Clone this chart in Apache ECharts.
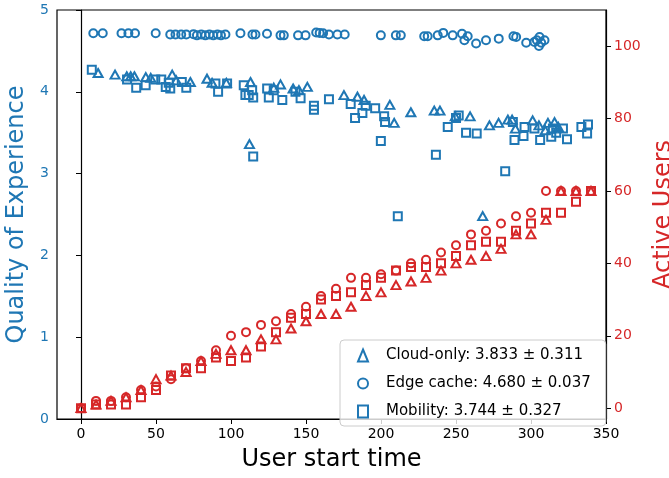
<!DOCTYPE html>
<html>
<head>
<meta charset="utf-8">
<script src="https://cdn.jsdelivr.net/npm/echarts@6/dist/echarts.min.js"></script>
<style>
  html, body { margin: 0; padding: 0; background: #fff; }
  #chart { width: 669px; height: 478px; }
</style>
</head>
<body>
<div id="chart"></div>
<script>
// red: active users sampled every 10 time units
const timeSlots = [0, 10, 20, 30, 40, 50, 60, 70, 80, 90, 100, 110, 120, 130, 140, 150, 160, 170,
  180, 190, 200, 210, 220, 230, 240, 250, 260, 270, 280, 290, 300, 310, 320, 330, 340];
const usersCloud = [0, 1, 2, 3, 5, 8, 9, 10, 13, 15, 16, 16, 19, 19, 22, 24, 26, 26,
  28, 31, 32, 34, 35, 36, 38, 40, 41, 42, 44, 48, 48, 52, 60, 60, 60];
const usersEdge = [0, 2, 2, 3, 5, 6, 8, 11, 13, 16, 20, 21, 23, 24, 26, 28, 31, 33,
  36, 36, 37, 38, 40, 41, 43, 45, 48, 49, 51, 53, 54, 60, 60, 60, 60];
const usersMobility = [0, 1, 1, 1, 3, 5, 9, 11, 11, 14, 13, 14, 17, 21, 25, 26, 30, 31,
  32, 34, 36, 38, 39, 39, 40, 42, 45, 46, 46, 49, 51, 54, 54, 57, 60];

// blue: QoE per user, [start time, qoe]
const qoeCloud = [
  [11.4, 4.23], [22.7, 4.21], [30.5, 4.19], [33.1, 4.19], [35.6, 4.19], [43.2, 4.18], [46.5, 4.17],
  [60.8, 4.21], [63.5, 4.14], [72.9, 4.12], [84, 4.16], [87.4, 4.11], [96.9, 4.11], [112.3, 3.36],
  [113, 4.12], [128.5, 4.05], [133, 4.09], [141.4, 4.04], [145.3, 4.02], [150.9, 4.06], [175.3, 3.96],
  [184.3, 3.94], [188.7, 3.90], [205.9, 3.84], [208.8, 3.62], [219.9, 3.75], [235.5, 3.77], [239.3, 3.77],
  [249.5, 3.70], [259.4, 3.70], [267.8, 2.48], [272.3, 3.59], [278.4, 3.62], [284.6, 3.66], [287.4, 3.66],
  [289.6, 3.55], [301.1, 3.65], [305.3, 3.59], [309.5, 3.53], [311.3, 3.62], [315.7, 3.63], [318.2, 3.57]
];
const qoeEdge = [
  [8.2, 4.715], [14.5, 4.715], [27, 4.715], [31.6, 4.715], [36, 4.715], [49.8, 4.715], [59.5, 4.70],
  [63, 4.70], [66.8, 4.70], [70.2, 4.70], [75, 4.705], [77.3, 4.69], [80.2, 4.70], [82.9, 4.69],
  [85.6, 4.70], [88.2, 4.69], [91, 4.70], [93.3, 4.69], [96.3, 4.70], [106.3, 4.715], [114.3, 4.70],
  [116.3, 4.70], [124, 4.71], [133, 4.69], [135.2, 4.69], [144.7, 4.69], [149.7, 4.69], [156.8, 4.725],
  [159.1, 4.72], [161.4, 4.715], [165.3, 4.70], [170.9, 4.70], [175.8, 4.70], [199.9, 4.69], [209.9, 4.69],
  [213.2, 4.69], [228.8, 4.68], [231.1, 4.68], [237.8, 4.69], [241.5, 4.72], [247.8, 4.69], [254, 4.71],
  [255.6, 4.63], [257.8, 4.68], [263.4, 4.59], [270, 4.63], [278.5, 4.65], [288.3, 4.68], [290.1, 4.67],
  [296.8, 4.60], [302.3, 4.61], [303.9, 4.63], [305.3, 4.56], [305.7, 4.67], [306.8, 4.60], [309, 4.63]
];
const qoeMobility = [
  [7.2, 4.27], [30.7, 4.15], [36.8, 4.05], [43.1, 4.08], [49.5, 4.15], [53.5, 4.15], [56.5, 4.06],
  [58.5, 4.11], [59.5, 4.04], [67.2, 4.12], [70.2, 4.05], [89.6, 4.10], [91.4, 4.00], [97.4, 4.10],
  [108.5, 4.08], [109.6, 3.96], [111.8, 3.96], [114.8, 3.21], [114.1, 4.02], [114.8, 3.93], [124.1, 4.04],
  [125.2, 3.93], [128.5, 4.02], [134.2, 3.90], [143, 4.00], [146.4, 3.92], [155.3, 3.83], [155.3, 3.78],
  [165.3, 3.91], [179.8, 3.85], [182.7, 3.68], [187.6, 3.74], [189.8, 3.83], [196.1, 3.80], [199.9, 3.40],
  [202.1, 3.70], [202.7, 3.63], [211.2, 2.48], [236.6, 3.23], [244.5, 3.57], [250, 3.68], [251.8, 3.71],
  [256.7, 3.50], [263.8, 3.49], [282.8, 3.03], [287.9, 3.63], [289, 3.41], [295, 3.46], [295.7, 3.57],
  [302.3, 3.55], [306.1, 3.41], [314.6, 3.55], [316.8, 3.50], [313.5, 3.45], [321.3, 3.55], [324, 3.42],
  [333.6, 3.57], [338, 3.60], [337.4, 3.49]
];

const xTicks = [0, 50, 100, 150, 200, 250, 300, 350];
const usersTicks = [0, 20, 40, 60, 80, 100];
const legendNames = ['Cloud-only: 3.833 ± 0.311', 'Edge cache: 4.680 ± 0.037', 'Mobility: 3.744 ± 0.327'];

const BLUE = '#1f77b4';
const RED = '#d62728';
const FONT = 'DejaVu Sans';

function zip(xs, ys) {
  return xs.map((x, i) => [x, ys[i]]);
}

function markerSeries(name, data, symbol, size, color, yIdx) {
  return {
    name: name,
    type: 'scatter',
    yAxisIndex: yIdx,
    symbol: symbol,
    symbolSize: size,
    data: data,
    itemStyle: { color: 'rgba(255,255,255,0)', borderColor: color, borderWidth: 2, opacity: 1 },
    emphasis: { disabled: true },
    animation: false
  };
}

const chart = echarts.init(document.getElementById('chart'));
const option = {
  animation: false,
  backgroundColor: '#fff',
  textStyle: { fontFamily: FONT },
  grid: {
    left: 57, right: 63, top: 10, bottom: 59,
    show: true, borderColor: '#000', borderWidth: 1.2,
    outerBoundsMode: 'none'
  },
  legend: {
    data: legendNames,
    orient: 'vertical',
    left: 340, top: 340,
    padding: [8, 15, 7, 17],
    itemGap: 13,
    itemWidth: 10,
    itemHeight: 12,
    backgroundColor: 'rgba(255,255,255,0.8)',
    borderColor: '#ccc', borderWidth: 1, borderRadius: 4,
    textStyle: { fontFamily: FONT, fontSize: 15, color: '#000', padding: [0, 0, 0, 13] },
    itemStyle: { borderWidth: 2, opacity: 1 }
  },
  xAxis: {
    type: 'value', min: -16, max: 350,
    name: 'User start time', nameLocation: 'middle', nameGap: 29,
    nameTextStyle: { fontFamily: FONT, fontSize: 24, color: '#000' },
    axisLine: { onZero: false, lineStyle: { color: '#000', width: 1.2 } },
    axisTick: { show: true, length: 5, lineStyle: { color: '#000' }, customValues: xTicks },
    axisLabel: { fontFamily: FONT, fontSize: 14, color: '#000', margin: 8, customValues: xTicks },
    splitLine: { show: false }
  },
  yAxis: [
    {
      type: 'value', min: 0, max: 5, interval: 1, position: 'left',
      name: 'Quality of Experience', nameLocation: 'middle', nameRotate: 90, nameGap: 26,
      nameTextStyle: { fontFamily: FONT, fontSize: 24, color: BLUE },
      axisLine: { show: true, lineStyle: { color: '#000', width: 1.2 } },
      axisTick: { show: true, length: 5, lineStyle: { color: '#000' } },
      axisLabel: { fontFamily: FONT, fontSize: 14, color: BLUE, margin: 8 },
      splitLine: { show: false }
    },
    {
      type: 'value', min: -3, max: 110, position: 'right',
      name: 'Active Users', nameLocation: 'middle', nameRotate: 90, nameGap: 38,
      nameTextStyle: { fontFamily: FONT, fontSize: 24, color: RED },
      axisLine: { show: true, lineStyle: { color: '#000', width: 1.2 } },
      axisTick: { show: true, length: 5, lineStyle: { color: '#000' }, customValues: usersTicks },
      axisLabel: { fontFamily: FONT, fontSize: 14, color: RED, margin: 8, customValues: usersTicks },
      splitLine: { show: false }
    }
  ],
  series: [
    markerSeries(legendNames[0], qoeCloud, 'triangle', [9, 8], BLUE, 0),
    markerSeries(legendNames[1], qoeEdge, 'circle', 8, BLUE, 0),
    markerSeries(legendNames[2], qoeMobility, 'rect', 8, BLUE, 0),
    markerSeries('users-cloud', zip(timeSlots, usersCloud), 'triangle', [9, 8], RED, 1),
    markerSeries('users-edge', zip(timeSlots, usersEdge), 'circle', 8, RED, 1),
    markerSeries('users-mobility', zip(timeSlots, usersMobility), 'rect', 8, RED, 1)
  ]
};
chart.setOption(option);
</script>
</body>
</html>
